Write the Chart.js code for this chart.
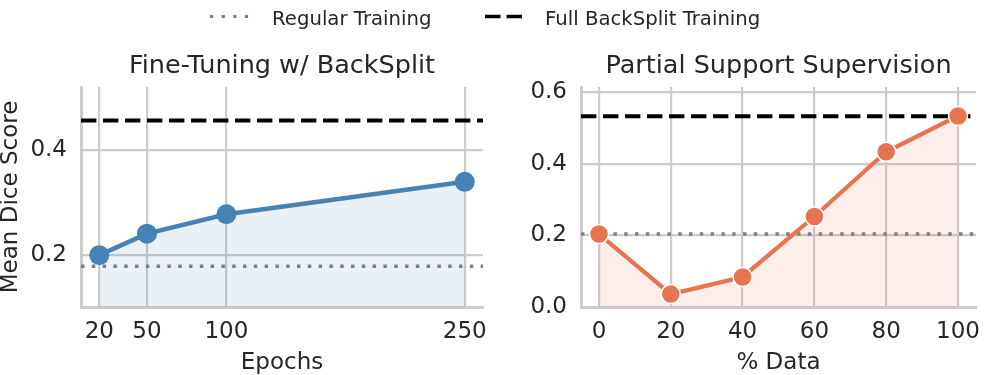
<!DOCTYPE html>
<html>
<head>
<meta charset="utf-8">
<script src="https://cdn.jsdelivr.net/npm/chart.js@4.4.1/dist/chart.umd.min.js"></script>
<style>
  body { margin: 0; background: #fff; font-family: 'DejaVu Sans', sans-serif; color: #262626; }
  #wrap { position: relative; width: 987px; height: 375px; overflow: hidden; }
  .panel { position: absolute; top: 0; }
  .leg-text { position: absolute; top: 9px; font-size: 19.7px; line-height: 20px; white-space: nowrap; }
  .leg-line { position: absolute; top: 14px; }
</style>
</head>
<body>
<div id="wrap">
  <canvas id="left" class="panel" style="left:0px" width="493" height="375"></canvas>
  <canvas id="right" class="panel" style="left:493px" width="494" height="375"></canvas>

  <svg class="leg-line" style="left:208px" width="44" height="5">
    <line x1="2" y1="2.5" x2="42" y2="2.5" stroke="#808080" stroke-width="3" stroke-dasharray="3.3 8.3"/>
  </svg>
  <div class="leg-text" style="left:272px">Regular Training</div>
  <svg class="leg-line" style="left:483px" width="44" height="5">
    <line x1="2" y1="2.5" x2="40" y2="2.5" stroke="#000" stroke-width="3.3" stroke-dasharray="15.5 6"/>
  </svg>
  <div class="leg-text" style="left:545px">Full BackSplit Training</div>
</div>
<script>
// left panel: fine-tuning epochs
const epochs = [20, 50, 100, 250];
const epochDice = [0.199, 0.240, 0.277, 0.339];
const epochRegular = 0.178;
const epochFull = 0.456;
const epochTicks = [20, 50, 100, 250];
const epochDiceTicks = [0.2, 0.4];

// right panel: partial support supervision
const pctData = [0, 20, 40, 60, 80, 100];
const pctDice = [0.204, 0.036, 0.084, 0.253, 0.434, 0.534];
const pctRegular = 0.204;
const pctFull = 0.533;
const pctTicks = [0, 20, 40, 60, 80, 100];
const pctDiceTicks = [0.0, 0.2, 0.4, 0.6];

Chart.defaults.font.family = "'DejaVu Sans', sans-serif";
Chart.defaults.color = '#262626';

function panel(id, o) {
    const hline = (y, color, width, dash) => ({
        data: [{x: o.xmin, y: y}, {x: o.xmax, y: y}],
        borderColor: color,
        borderWidth: width,
        borderDash: dash,
        borderCapStyle: 'butt',
        pointRadius: 0,
        fill: false,
        order: 1
    });

    new Chart(document.getElementById(id), {
        type: 'line',
        data: {
            datasets: [
                {
                    data: o.xs.map((x, i) => ({x: x, y: o.ys[i]})),
                    borderColor: o.color,
                    borderWidth: o.lw,
                    backgroundColor: o.fill,
                    fill: 'start',
                    tension: 0,
                    pointRadius: o.r,
                    pointBackgroundColor: o.color,
                    pointBorderColor: o.edge,
                    pointBorderWidth: o.edgeW,
                    order: 0
                },
                hline(o.regular, '#808080', 3.5, [3.5, 7.3]),
                hline(o.full, '#000000', 4, [15.4, 6.6])
            ]
        },
        options: {
            responsive: false,
            animation: false,
            layout: { padding: { left: 0, right: o.padR, top: 0, bottom: 0 } },
            plugins: {
                legend: { display: false },
                tooltip: { enabled: false },
                filler: { drawTime: 'beforeDatasetsDraw' },
                title: {
                    display: true,
                    fullSize: false,
                    text: o.title,
                    color: '#262626',
                    font: { size: 25.5, weight: 'normal', lineHeight: 1.2 },
                    padding: { top: 51, bottom: 5.4 }
                }
            },
            scales: {
                x: {
                    type: 'linear',
                    min: o.xmin,
                    max: o.xmax,
                    afterBuildTicks: s => { s.ticks = o.xticks.map(v => ({value: v})); },
                    afterFit: s => { s.height = 68; s.paddingLeft = 0; s.paddingRight = 0; },
                    ticks: { font: { size: 23 }, padding: 11.5, autoSkip: false, maxRotation: 0,
                             callback: v => String(v) },
                    grid: { color: '#cccccc', lineWidth: 2.2, drawTicks: false },
                    border: { display: true, color: '#cccccc', width: 3 },
                    title: { display: true, text: o.xlabel, font: { size: 23, lineHeight: 1.08 },
                             padding: { top: 0, bottom: 0 } }
                },
                y: {
                    min: o.ymin,
                    max: o.ymax,
                    afterBuildTicks: s => { s.ticks = o.yticks.map(v => ({value: v})); },
                    afterFit: s => { s.width = o.yw; s.paddingTop = 0; s.paddingBottom = 0; },
                    ticks: { font: { size: 23 }, padding: 14, callback: v => v.toFixed(1) },
                    grid: { color: '#cccccc', lineWidth: 2.2, drawTicks: false },
                    border: { display: true, color: '#cccccc', width: 3 },
                    title: { display: !!o.ylabel, text: o.ylabel || '', font: { size: 23, lineHeight: 0.95 },
                             padding: { top: 0, bottom: 0 } }
                }
            }
        }
    });
}

panel('left', {
    title: 'Fine-Tuning w/ BackSplit', xlabel: 'Epochs', ylabel: 'Mean Dice Score',
    xs: epochs, ys: epochDice, regular: epochRegular, full: epochFull,
    xticks: epochTicks, yticks: epochDiceTicks,
    xmin: 8.5, xmax: 261.5, ymin: 0.1, ymax: 0.52,
    color: '#4682b4', fill: 'rgba(70,130,180,0.12)', lw: 4.5, r: 10, edge: '#4682b4', edgeW: 0,
    yw: 81, padR: 8
});

panel('right', {
    title: 'Partial Support Supervision', xlabel: '% Data',
    xs: pctData, ys: pctDice, regular: pctRegular, full: pctFull,
    xticks: pctTicks, yticks: pctDiceTicks,
    xmin: -5, xmax: 105, ymin: 0, ymax: 0.615,
    color: '#e8734f', fill: 'rgba(232,115,79,0.12)', lw: 4.2, r: 9.5, edge: '#ffffff', edgeW: 1.5,
    yw: 88, padR: 4
});
</script>
</body>
</html>
